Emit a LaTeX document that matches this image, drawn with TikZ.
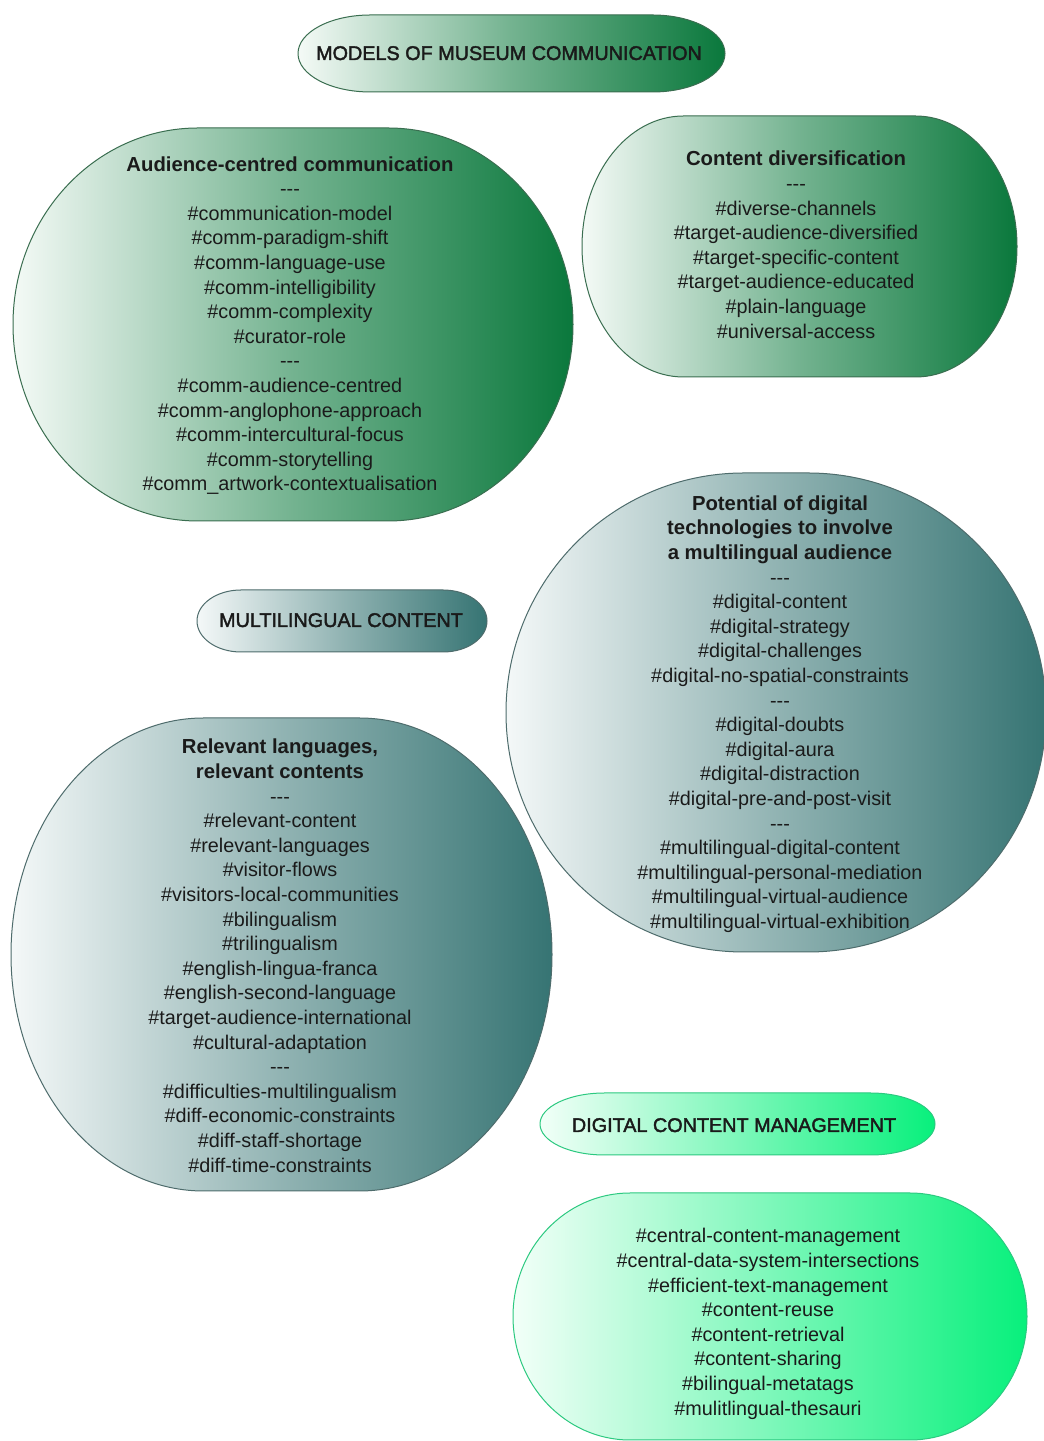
\documentclass[tikz,border=0pt]{standalone}
\usepackage{fontspec}
\setmainfont{Liberation Sans}
\newfontfamily\capsfont[FakeBold=2]{Liberation Sans}

\definecolor{grnL}{HTML}{F4FAF6}
\definecolor{grnR}{HTML}{0A783C}
\definecolor{grnE}{HTML}{3A6E50}
\definecolor{tealL}{HTML}{F4F8F8}
\definecolor{tealR}{HTML}{367473}
\definecolor{tealE}{HTML}{4E6C6C}
\definecolor{mintL}{HTML}{F2FFF8}
\definecolor{mintR}{HTML}{08F07C}
\definecolor{mintE}{HTML}{2CC980}
\definecolor{ink}{HTML}{1A1A1A}

% struts that centre a block of lines on its visual middle
\newcommand\tops{\rule{0pt}{19pt}}
\newcommand\bots{\rule[-5pt]{0pt}{5pt}}
\newcommand\sepline{-{}-{}-}
% bold title lines, set a touch larger
\newcommand\ttl[1]{{\fontsize{20.3pt}{24.6pt}\selectfont\bfseries #1}}

% capsule: straight top and bottom, half-elliptic ends
% #1 style, #2 cx, #3 cy (from the top), #4 half flat length, #5 end x radius, #6 half height
\newcommand\stadiumshape[6]{%
  \path[#1] ({#2-#4},{1441-#3-#6}) -- ({#2+#4},{1441-#3-#6})
    arc[start angle=-90, end angle=90, x radius=#5pt, y radius=#6pt]
    -- ({#2-#4},{1441-#3+#6})
    arc[start angle=90, end angle=270, x radius=#5pt, y radius=#6pt] -- cycle;}

\tikzset{
  txt/.style={align=center, inner sep=0pt, text=ink,
    font=\fontsize{19.8pt}{24.6pt}\selectfont},
  headtxt/.style={align=center, inner sep=0pt, text=ink,
    font=\capsfont\fontsize{19.8pt}{24.6pt}\selectfont},
  greenfill/.style={left color=grnL, right color=grnR, middle color=grnR!55!grnL,
    draw=grnE, line width=1pt},
  tealfill/.style={left color=tealL, right color=tealR, middle color=tealR!52!tealL,
    draw=tealE, line width=1pt},
  mintfill/.style={left color=mintL, right color=mintR, middle color=mintR!50!mintL,
    draw=mintE, line width=1pt},
}

\begin{document}
\begin{tikzpicture}[x=1pt, y=1pt]
\useasboundingbox (0,0) rectangle (1044,1441);
\fill[white] (0,0) rectangle (1044,1441);

% shapes
\stadiumshape{greenfill}{511.5}{53.5}{141}{72.5}{38.5}
\stadiumshape{greenfill}{293}{324.5}{95}{185}{196.5}
\stadiumshape{greenfill}{799.5}{246.5}{116}{101.5}{130.5}
\stadiumshape{tealfill}{342}{621}{101}{44}{31}
\stadiumshape{tealfill}{776}{712.5}{32}{238}{239.5}
\stadiumshape{tealfill}{281.5}{954.5}{78}{192.5}{236.5}
\stadiumshape{mintfill}{737.5}{1124}{133}{64.5}{31}
\stadiumshape{mintfill}{770}{1316.5}{140}{117}{123.5}

% headings
\node[headtxt] (models) at (509,1388) {\tops MODELS OF MUSEUM COMMUNICATION\bots};
\node[headtxt] (multi) at (341,821) {\tops MULTILINGUAL CONTENT\bots};
\node[headtxt] (dcm) at (734,316) {\tops DIGITAL CONTENT MANAGEMENT\bots};

% contents
\node[txt] (audience) at (290,1117) {\tops\ttl{Audience-centred communication}\\
  \sepline\\
  \#communication-model\\
  \#comm-paradigm-shift\\
  \#comm-language-use\\
  \#comm-intelligibility\\
  \#comm-complexity\\
  \#curator-role\\
  \sepline\\
  \#comm-audience-centred\\
  \#comm-anglophone-approach\\
  \#comm-intercultural-focus\\
  \#comm-storytelling\\
  \#comm\_artwork-contextualisation\bots};

\node[txt] (diversification) at (796,1196) {\tops\ttl{Content diversification}\\
  \sepline\\
  \#diverse-channels\\
  \#target-audience-diversified\\
  \#target-specific-content\\
  \#target-audience-educated\\
  \#plain-language\\
  \#universal-access\bots};

\node[txt] (potential) at (780,728.5) {\tops\ttl{Potential of digital}\\
  \ttl{technologies to involve}\\
  \ttl{a multilingual audience}\\
  \sepline\\
  \#digital-content\\
  \#digital-strategy\\
  \#digital-challenges\\
  \#digital-no-spatial-constraints\\
  \sepline\\
  \#digital-doubts\\
  \#digital-aura\\
  \#digital-distraction\\
  \#digital-pre-and-post-visit\\
  \sepline\\
  \#multilingual-digital-content\\
  \#multilingual-personal-mediation\\
  \#multilingual-virtual-audience\\
  \#multilingual-virtual-exhibition\bots};

\node[txt] (relevant) at (280,485) {\tops\ttl{Relevant languages,}\\
  \ttl{relevant contents}\\
  \sepline\\
  \#relevant-content\\
  \#relevant-languages\\
  \#visitor-flows\\
  \#visitors-local-communities\\
  \#bilingualism\\
  \#trilingualism\\
  \#english-lingua-franca\\
  \#english-second-language\\
  \#target-audience-international\\
  \#cultural-adaptation\\
  \sepline\\
  \#difficulties-multilingualism\\
  \#diff-economic-constraints\\
  \#diff-staff-shortage\\
  \#diff-time-constraints\bots};

\node[txt] (management) at (768,119) {\tops\#central-content-management\\
  \#central-data-system-intersections\\
  \#efficient-text-management\\
  \#content-reuse\\
  \#content-retrieval\\
  \#content-sharing\\
  \#bilingual-metatags\\
  \#mulitlingual-thesauri\bots};
\end{tikzpicture}
\end{document}
